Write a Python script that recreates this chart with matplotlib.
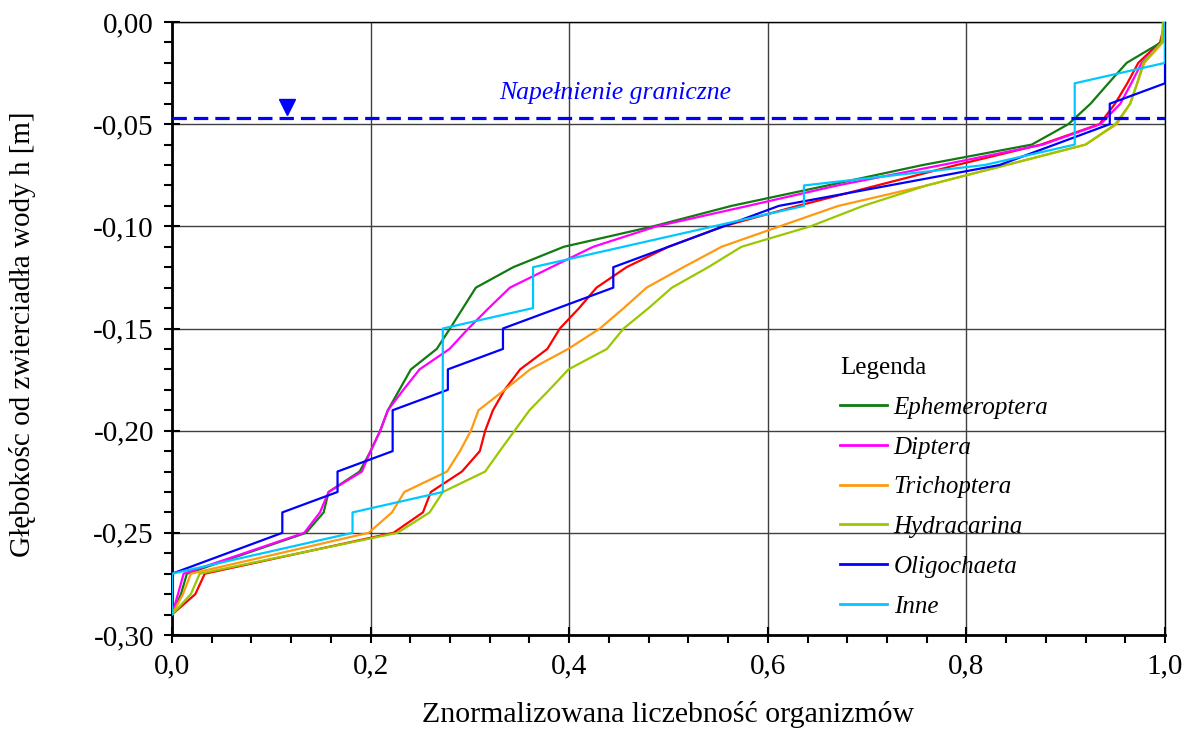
import matplotlib
matplotlib.use("Agg")
import matplotlib.pyplot as plt
from matplotlib.ticker import MultipleLocator, FuncFormatter

plt.rcParams['font.family'] = ['Liberation Serif', 'DejaVu Serif']

# ---- data (normalized abundance x vs depth y) ----
eph_x = [0, 0.009, 0.015, 0.135, 0.1527, 0.1577, 0.189, 0.20, 0.2097, 0.2174, 0.229, 0.2406, 0.2666,
         0.28, 0.293, 0.306, 0.3436, 0.3946, 0.4846, 0.5634, 0.66, 0.756, 0.8658, 0.9027, 0.925,
         0.943, 0.9614, 0.996, 1.0]
eph_y = [-0.29, -0.28, -0.27, -0.25, -0.24, -0.23, -0.22, -0.21, -0.20, -0.19, -0.18, -0.17, -0.16,
         -0.15, -0.14, -0.13, -0.12, -0.11, -0.10, -0.09, -0.08, -0.07, -0.06, -0.05, -0.04,
         -0.03, -0.02, -0.01, 0.0]

dip_x = [0, 0.006, 0.0117, 0.1332, 0.149, 0.1577, 0.1913, 0.20, 0.2097, 0.2174, 0.233, 0.2493, 0.2795,
         0.2985, 0.319, 0.3403, 0.382, 0.4242, 0.488, 0.58, 0.67, 0.775, 0.877, 0.935, 0.955,
         0.966, 0.9765, 0.997, 1.0]
dip_y = [-0.29, -0.28, -0.27, -0.25, -0.24, -0.23, -0.22, -0.21, -0.20, -0.19, -0.18, -0.17, -0.16,
         -0.15, -0.14, -0.13, -0.12, -0.11, -0.10, -0.09, -0.08, -0.07, -0.06, -0.05, -0.04,
         -0.03, -0.02, -0.01, 0.0]

tri_x = [0, 0.011, 0.019, 0.198, 0.2215, 0.234, 0.277, 0.29, 0.301, 0.3087, 0.335, 0.3607, 0.399,
         0.4309, 0.455, 0.4779, 0.515, 0.5534, 0.612, 0.671, 0.76, 0.84, 0.92, 0.9513, 0.9648,
         0.972, 0.9792, 0.9977, 1.0]
tri_y = [-0.29, -0.28, -0.27, -0.25, -0.24, -0.23, -0.22, -0.21, -0.20, -0.19, -0.18, -0.17, -0.16,
         -0.15, -0.14, -0.13, -0.12, -0.11, -0.10, -0.09, -0.08, -0.07, -0.06, -0.05, -0.04,
         -0.03, -0.02, -0.01, 0.0]

hyd_x = [0, 0.019, 0.0279, 0.227, 0.2594, 0.2728, 0.3154, 0.33, 0.345, 0.36, 0.38, 0.3993, 0.438,
         0.4548, 0.48, 0.5035, 0.54, 0.5735, 0.643, 0.696, 0.76, 0.84, 0.92, 0.95, 0.965,
         0.972, 0.978, 0.9966, 0.998]
hyd_y = [-0.29, -0.28, -0.27, -0.25, -0.24, -0.23, -0.22, -0.21, -0.20, -0.19, -0.18, -0.17, -0.16,
         -0.15, -0.14, -0.13, -0.12, -0.11, -0.10, -0.09, -0.08, -0.07, -0.06, -0.05, -0.04,
         -0.03, -0.02, -0.01, 0.0]

oli_x = [0, 0, 0.1111, 0.1111, 0.1667, 0.1667, 0.2222, 0.2222, 0.2778, 0.2778, 0.3333, 0.3333,
         0.4444, 0.4444, 0.5, 0.5556, 0.6111, 0.7222, 0.8333, 0.8889, 0.9444, 0.9444, 1.0, 1.0]
oli_y = [-0.29, -0.27, -0.25, -0.24, -0.23, -0.22, -0.21, -0.19, -0.18, -0.17, -0.16, -0.15,
         -0.13, -0.12, -0.11, -0.10, -0.09, -0.08, -0.07, -0.06, -0.05, -0.04, -0.03, 0.0]

inn_x = [0, 0, 0.1818, 0.1818, 0.2727, 0.2727, 0.3636, 0.3636, 0.4545, 0.5455, 0.6364, 0.6364,
         0.8182, 0.9091, 0.9091, 1.0, 1.0]
inn_y = [-0.29, -0.27, -0.25, -0.24, -0.23, -0.15, -0.14, -0.12, -0.11, -0.10, -0.09, -0.08,
         -0.07, -0.06, -0.03, -0.02, 0.0]

red_x = [0, 0.0235, 0.033, 0.223, 0.2527, 0.2607, 0.292, 0.31, 0.3154, 0.3232, 0.335, 0.3506, 0.378,
         0.3906, 0.41, 0.4275, 0.4577, 0.5, 0.555, 0.63, 0.71, 0.79, 0.875, 0.934, 0.9497,
         0.962, 0.9731, 0.995, 1.0]
red_y = [-0.29, -0.28, -0.27, -0.25, -0.24, -0.23, -0.22, -0.21, -0.20, -0.19, -0.18, -0.17, -0.16,
         -0.15, -0.14, -0.13, -0.12, -0.11, -0.10, -0.09, -0.08, -0.07, -0.06, -0.05, -0.04,
         -0.03, -0.02, -0.01, 0.0]

limit_level = -0.047
limit_label = "Napełnienie graniczne"

series = [
    ("Ephemeroptera", eph_x, eph_y, "#117a11"),
    ("Diptera", dip_x, dip_y, "#ff00ff"),
    ("Trichoptera", tri_x, tri_y, "#ff9a10"),
    ("Hydracarina", hyd_x, hyd_y, "#99c800"),
    ("Oligochaeta", oli_x, oli_y, "#0000ff"),
    ("Inne", inn_x, inn_y, "#00c8ff"),
]

fig = plt.figure(figsize=(11.87, 7.54), dpi=100)
ax = fig.add_axes([172 / 1187, 1 - 635 / 754, (1165 - 172) / 1187, (635 - 22) / 754])

ax.set_xlim(0, 1.0)
ax.set_ylim(-0.30, 0.0)

ax.grid(True, which='major', color='#404040', linewidth=1.0)
ax.set_axisbelow(True)

ax.plot(red_x, red_y, color="#ff0000", lw=1.6, zorder=3)
for name, xs, ys, c in series:
    ax.plot(xs, ys, color=c, lw=1.6, label=name, zorder=3)

ax.axhline(limit_level, color='#0000ff', lw=2.3, dashes=(4.5, 2.2), zorder=4)
ax.plot([0.1163], [limit_level + 0.0056], marker='v', color='#0000ff', markersize=12,
        linestyle='none', zorder=5)
ax.text(0.446, limit_level + 0.0093, limit_label, color='#0000ff', fontsize=18.5,
        style='italic', ha='center', va='baseline')

ax.xaxis.set_major_locator(MultipleLocator(0.2))
ax.xaxis.set_minor_locator(MultipleLocator(0.04))
ax.yaxis.set_major_locator(MultipleLocator(0.05))
ax.yaxis.set_minor_locator(MultipleLocator(0.01))
ax.xaxis.set_major_formatter(FuncFormatter(lambda v, p: f"{v:.1f}".replace('.', ',')))
ax.yaxis.set_major_formatter(FuncFormatter(lambda v, p: ("0,00" if abs(v) < 1e-9 else f"{v:.2f}".replace('.', ','))))

ax.tick_params(which='major', direction='inout', length=12, width=1.5, labelsize=21, pad=7, colors='black')
ax.tick_params(which='minor', direction='out', length=6, width=1.5)

for s in ['left', 'bottom']:
    ax.spines[s].set_linewidth(2.0)
for s in ['top', 'right']:
    ax.spines[s].set_linewidth(1.0)

ax.set_xlabel("Znormalizowana liczebność organizmów", fontsize=21.5, labelpad=16)
ax.set_ylabel("Głębokośc od zwierciadła wody h [m]", fontsize=21, labelpad=44)
ax.yaxis.set_label_coords((36 - 172) / 993, 0.49)

leg = ax.legend(loc='upper left', bbox_to_anchor=(0.65, 0.49), frameon=False, title="Legenda",
                prop={'style': 'italic', 'size': 18}, title_fontsize=18, alignment='left',
                handlelength=1.9, handletextpad=0.25, labelspacing=0.69)
for line in leg.get_lines():
    line.set_linewidth(2.0)

fig.savefig("out.png", dpi=100)
